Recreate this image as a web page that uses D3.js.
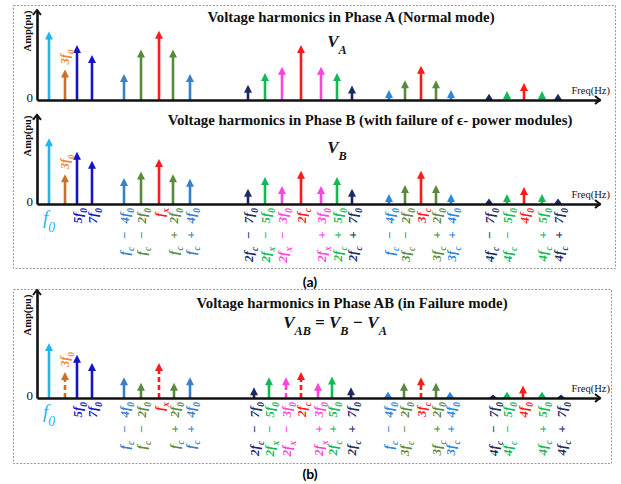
<!DOCTYPE html>
<html>
<head>
<meta charset="utf-8">
<script src="https://cdn.jsdelivr.net/npm/d3@7.9.0/dist/d3.min.js"></script>
<style>
  body { margin: 0; background: #fff; }
  svg { display: block; }
  .title { font-family: "Liberation Serif", serif; font-weight: bold; font-size: 14.8px; fill: #111; }
  .math { font-family: "Liberation Serif", serif; font-weight: bold; font-style: italic; }
  .small { font-family: "Liberation Serif", serif; fill: #111; }
</style>
</head>
<body>
<svg id="chart" width="621" height="484"></svg>
<script>
// harmonic names, "_x" marks a subscript
const harmonics = ['f_0', '3f_0', '5f_0', '7f_0',
  'f_c − 4f_0', 'f_c − 2f_0', 'f_x', 'f_c + 2f_0', 'f_c + 4f_0',
  '2f_c − 7f_0', '2f_x − 5f_0', '2f_x − 3f_0', '2f_c', '2f_x + 3f_0', '2f_c + 5f_0', '2f_c + 7f_0',
  'f_c − 4f_0', '3f_c − 2f_0', '3f_c', '3f_c + 2f_0', '3f_c + 4f_0',
  '4f_c − 7f_0', '4f_c − 5f_0', '4f_0', '4f_c + 5f_0', '4f_c + 7f_0'];

// position along the frequency axis (axis length = 563)
const freqA = [12, 28, 40, 55, 87, 104, 122, 136, 153, 211, 228, 245, 264, 284, 300, 315,
  352, 368, 384, 399, 414, 452, 470, 487, 505, 521];
const freqAB = [12, 28, 40, 55, 87, 104, 122, 137, 153, 217, 232, 249, 264, 281, 295, 314,
  351, 367, 384, 399, 413, 456, 470, 486, 505, 524];

// amplitudes (pu)
const ampA = [0.76, 0.34, 0.61, 0.50, 0.29, 0.56, 0.77, 0.56, 0.29, 0.17, 0.30, 0.37, 0.61, 0.37, 0.30, 0.16,
  0.11, 0.22, 0.38, 0.22, 0.11, 0.07, 0.10, 0.19, 0.10, 0.07];
const ampB = [0.73, 0.33, 0.58, 0.48, 0.29, 0.36, 0.50, 0.33, 0.28, 0.17, 0.30, 0.20, 0.37, 0.20, 0.30, 0.17,
  0.11, 0.21, 0.37, 0.21, 0.11, 0.06, 0.11, 0.19, 0.11, 0.06];
const ampAB = [0.61, 0.29, 0.48, 0.39, 0.23, 0.17, 0.39, 0.17, 0.23, 0.12, 0.23, 0.23, 0.29, 0.17, 0.24, 0.12,
  0.07, 0.17, 0.23, 0.17, 0.07, 0.04, 0.07, 0.14, 0.07, 0.04];

// components that cancel partly in V_AB (drawn dashed)
const dashedAB = ['3f_0', 'f_x', '2f_x − 3f_0', '2f_c', '3f_c'];

const colors = ['#22b4ee', '#c8702c', '#1414c8', '#1414c8',
  '#3a80c6', '#5a8a3c', '#ff1a1a', '#5a8a3c', '#3a80c6',
  '#1b2a66', '#14b957', '#ff44dd', '#ff1a1a', '#ff44dd', '#14b957', '#1b2a66',
  '#2a86de', '#5a8a3c', '#ff1a1a', '#5a8a3c', '#2a86de',
  '#1b2a66', '#14b957', '#ff1a1a', '#14b957', '#1b2a66'];

const svg = d3.select('#chart');

// write "2f_c − 7f_0" as text with subscripts
function mathText(sel, str) {
  str.split(/(_\w+)/).filter(s => s).forEach(part => {
    if (part[0] === '_') {
      sel.append('tspan').attr('baseline-shift', 'sub').attr('font-size', '72%').text(part.slice(1));
    } else {
      sel.append('tspan').text(part);
    }
  });
  return sel;
}

// panel borders
svg.append('rect').attr('x', 13.5).attr('y', 5.5).attr('width', 602).attr('height', 263)
  .attr('fill', 'none').attr('stroke', '#999').attr('stroke-dasharray', '2,1.5');
svg.append('rect').attr('x', 13.5).attr('y', 289.5).attr('width', 598).attr('height', 174)
  .attr('fill', 'none').attr('stroke', '#999').attr('stroke-dasharray', '2,1.5');

svg.append('text').attr('x', 310).attr('y', 287).attr('text-anchor', 'middle')
  .attr('font-family', 'Lato, sans-serif').attr('font-weight', 'bold').attr('font-size', 14).text('(a)');
svg.append('text').attr('x', 310).attr('y', 479).attr('text-anchor', 'middle')
  .attr('font-family', 'Lato, sans-serif').attr('font-weight', 'bold').attr('font-size', 14).text('(b)');

function drawSpectrum(opt) {
  const g = svg.append('g');
  const x = d3.scaleLinear().domain([0, 563]).range([37, 600]);
  const y = d3.scaleLinear().domain([0, 1]).range([opt.base, opt.base - 90]);
  const head = 8, hw = 4;

  // stems and heads
  opt.amp.forEach((v, i) => {
    const cx = x(opt.freq[i]);
    const tip = y(v);
    const col = colors[i];
    const dashed = opt.dashed && opt.dashed.includes(harmonics[i]);
    if (opt.base - tip > head) {
      g.append('line').attr('x1', cx).attr('x2', cx)
        .attr('y1', opt.base).attr('y2', tip + head - 1)
        .attr('stroke', col).attr('stroke-width', 2.6)
        .attr('stroke-dasharray', dashed ? '5,3' : null);
      g.append('path').attr('d', `M${cx - hw},${tip + head}L${cx},${tip}L${cx + hw},${tip + head}Z`)
        .attr('fill', col);
    } else {
      g.append('path').attr('d', `M${cx - hw},${opt.base}L${cx},${tip}L${cx + hw},${opt.base}Z`)
        .attr('fill', col);
    }
  });

  // axes
  const xAxis = d3.axisBottom(x).tickValues([]).tickSizeOuter(0);
  g.append('g').attr('transform', `translate(0,${opt.base})`).call(xAxis)
    .call(s => s.select('.domain').attr('stroke', '#111').attr('stroke-width', 2.6));
  const yAx = d3.scaleLinear().domain([0, opt.yMax]).range([opt.base, opt.base - 90 * opt.yMax]);
  const yAxis = d3.axisLeft(yAx).tickValues([0]).tickFormat(d3.format('d'))
    .tickSize(0).tickPadding(4).tickSizeOuter(0);
  g.append('g').attr('transform', 'translate(37,0)').call(yAxis)
    .call(s => s.select('.domain').attr('stroke', '#111').attr('stroke-width', 2.6))
    .call(s => s.selectAll('.tick text').attr('font-family', 'Liberation Serif, serif')
      .attr('font-size', 13).attr('fill', '#111').attr('dy', '0.1em'));

  const yTop = yAx(opt.yMax);
  g.append('path').attr('d', `M${33},${yTop + 5}L37,${yTop}L${41},${yTop + 5}`)
    .attr('fill', 'none').attr('stroke', '#111').attr('stroke-width', 2);
  g.append('path').attr('d', `M${595},${opt.base - 4}L600,${opt.base}L${595},${opt.base + 4}`)
    .attr('fill', 'none').attr('stroke', '#111').attr('stroke-width', 2);

  g.append('text').attr('class', 'small').attr('font-size', 10.5).attr('font-weight', 'bold')
    .attr('transform', `translate(31,${opt.ampY}) rotate(-90)`).attr('text-anchor', 'middle')
    .text('Amp(pu)');
  g.append('text').attr('class', 'small').attr('font-size', 10.5)
    .attr('x', 610).attr('y', opt.base - 6).attr('text-anchor', 'end').text('Freq(Hz)');

  // titles
  g.append('text').attr('class', 'title').attr('x', opt.titleX).attr('y', opt.titleY)
    .attr('text-anchor', 'middle').text(opt.title);
  mathText(g.append('text').attr('class', 'math').attr('font-size', 17).attr('fill', '#111')
    .attr('x', opt.subX).attr('y', opt.subY).attr('text-anchor', 'middle'), opt.sub);

  // 3f0 label above its arrow
  mathText(g.append('text').attr('class', 'math').attr('font-size', 12.5).attr('fill', '#f08a3a')
    .attr('transform', `translate(${x(opt.freq[1])},${y(opt.amp[1]) - 5}) rotate(-90)`)
    .attr('dy', '0.35em'), harmonics[1]);

  if (opt.labels) {
    mathText(g.append('text').attr('font-family', 'Liberation Serif, serif').attr('font-style', 'italic')
      .attr('font-size', 19).attr('fill', colors[0])
      .attr('x', x(opt.freq[0])).attr('y', opt.base + 20).attr('text-anchor', 'middle'), harmonics[0]);
    harmonics.forEach((h, i) => {
      if (i < 2) return;
      mathText(g.append('text').attr('class', 'math').attr('font-size', 13).attr('fill', colors[i])
        .attr('transform', `translate(${x(opt.freq[i])},${opt.base + 4}) rotate(-90)`)
        .attr('text-anchor', 'end').attr('dy', '0.35em').attr('word-spacing', 4.5), h);
    });
  }
}

drawSpectrum({ freq: freqA, amp: ampA, base: 100, yMax: 1.0, ampY: 31,
  title: 'Voltage harmonics in Phase A (Normal mode)', titleX: 351, titleY: 22,
  sub: 'V_A', subX: 337, subY: 47 });
drawSpectrum({ freq: freqA, amp: ampB, base: 204, yMax: 0.99, ampY: 136, labels: true,
  title: 'Voltage harmonics in Phase B (with failure of ϵ- power modules)', titleX: 370, titleY: 125,
  sub: 'V_B', subX: 337, subY: 153 });
drawSpectrum({ freq: freqAB, amp: ampAB, base: 398, yMax: 1.2, ampY: 315, labels: true, dashed: dashedAB,
  title: 'Voltage harmonics in Phase AB (in Failure mode)', titleX: 352, titleY: 308,
  sub: 'V_AB = V_B − V_A', subX: 335, subY: 328 });
</script>
</body>
</html>
